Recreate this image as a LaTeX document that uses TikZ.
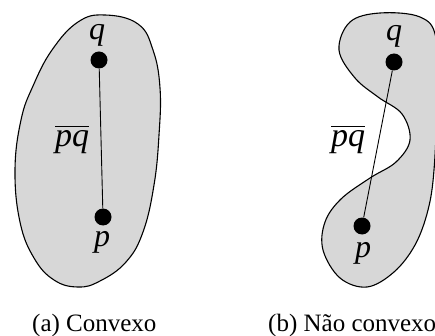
\documentclass[tikz,border=0pt]{standalone}
\usepackage{fontspec}
\setmainfont{Liberation Serif}
\definecolor{shapegray}{RGB}{215,215,215}
\newcommand{\barlabel}[1]{\vbox{\hrule height 1.1pt\kern 3pt\hbox{\itshape #1}}}
\tikzset{
  region/.style={draw=black, line width=1.1pt, fill=shapegray},
  dotnode/.style={circle, fill=black, inner sep=0pt, minimum size=17pt},
  seg/.style={draw=black, line width=0.9pt},
  ptlabel/.style={inner sep=0pt, font=\fontsize{32}{36}\selectfont\itshape},
  seglabel/.style={inner sep=0pt, font=\fontsize{34}{38}\selectfont},
  caplabel/.style={inner sep=0pt, anchor=base west, font=\fontsize{25}{29}\selectfont}
}
\begin{document}
\begin{tikzpicture}[x=1pt, y=-1pt]
\useasboundingbox (0,0) rectangle (435,336);
% left convex shape
\draw[region] plot[smooth cycle, tension=0.7] coordinates {
  (105,15) (138,24) (153,50) (160,88) (159,135) (154,185) (143,232)
  (126,262) (100,281) (78,287) (54,280) (34,258) (20,222) (15,170)
  (21,120) (33,86) (52,50) (78,22)};
% right non-convex shape
\draw[region] plot[smooth cycle, tension=0.6] coordinates {
  (380,13) (420,17) (436,38) (437,100) (434,170) (428,210) (415,245)
  (394,272) (367,287) (340,278) (323,250) (325,222) (341,199)
  (370,178) (396,162) (410,140) (402,114) (378,97) (355,78) (339,50) (350,22)};
% left points
\node[dotnode] (qa) at (99,60) {};
\node[dotnode] (pa) at (103,217) {};
\draw[seg] (qa) -- (pa);
\node[ptlabel] (lqa) at (97,35) {q};
\node[ptlabel] (lpa) at (102,242) {p};
\node[seglabel] (lsa) at (72,140) {\barlabel{pq}};
% right points
\node[dotnode] (qb) at (394,62) {};
\node[dotnode] (pb) at (362,226) {};
\draw[seg] (qb) -- (pb);
\node[ptlabel] (lqb) at (394,36) {q};
\node[ptlabel] (lpb) at (363,253) {p};
\node[seglabel] (lsb) at (348,140) {\barlabel{pq}};
% captions
\node[caplabel] (capa) at (32,331) {(a) Convexo};
\node[caplabel] (capb) at (268,331) {(b) Não convexo};
\end{tikzpicture}
\end{document}
